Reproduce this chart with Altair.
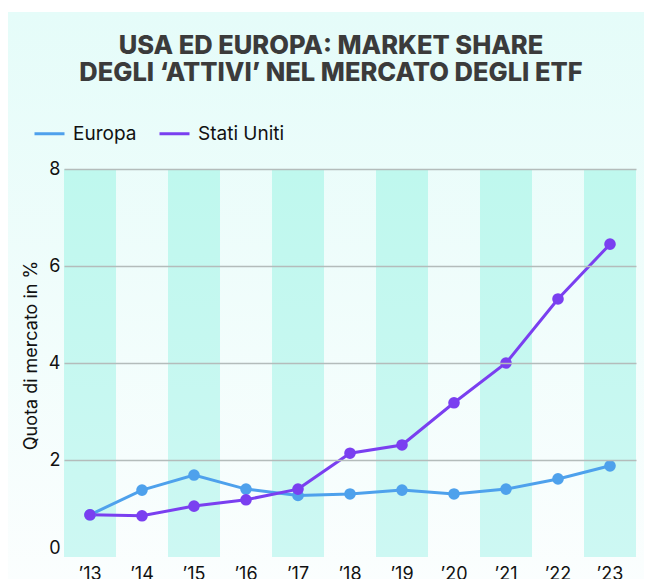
import altair as alt
import pandas as pd

years = ["’13", "’14", "’15", "’16", "’17", "’18", "’19", "’20", "’21", "’22", "’23"]
europa = [0.87, 1.38, 1.69, 1.40, 1.27, 1.30, 1.38, 1.30, 1.40, 1.61, 1.88]
stati_uniti = [0.87, 0.85, 1.05, 1.18, 1.40, 2.14, 2.31, 3.18, 4.00, 5.32, 6.45]
series = ["Europa", "Stati Uniti"]
colors = ["#4ea1ec", "#7a3ff0"]
shaded_years = years[::2]
y_ticks = [0, 2, 4, 6, 8]

rows = []
for name, vals in zip(series, [europa, stati_uniti]):
    for yr, v in zip(years, vals):
        rows.append({"year": yr, "value": v, "series": name})
df = pd.DataFrame(rows)

W, H = 572, 388
FONT = "Inter"

xscale = alt.Scale(type="band", domain=years, paddingInner=0, paddingOuter=0)
yscale = alt.Scale(domain=[0, 8], nice=False)

xaxis = alt.Axis(title=None, domain=False, ticks=False, labelAngle=0, labelFontSize=18,
                 labelFont=FONT, labelPadding=8, labelColor="#111111", grid=False)
yaxis = alt.Axis(values=y_ticks, title="Quota di mercato in %", domain=False, ticks=False,
                 labelFontSize=18, labelFont=FONT, labelColor="#111111", labelPadding=4,
                 labelBaseline={"condition": {"test": "datum.value == 0", "value": "bottom"}, "value": "middle"},
                 gridColor="#b4bcbb", gridWidth=1.5,
                 gridOpacity={"condition": {"test": "datum.value == 0", "value": 0}, "value": 1},
                 zindex=1, titleFontSize=18, titleFont=FONT, titleFontWeight="normal",
                 titleColor="#111111", titleX=-33, titleY=186, titleAngle=270,
                 titleAlign="center", titleBaseline="middle")

bg_grad = alt.LinearGradient(gradient="linear", x1=0, x2=0, y1=0, y2=1,
                             stops=[alt.GradientStop(color="#e5fcf9", offset=0),
                                    alt.GradientStop(color="#fbfefe", offset=1)])
band_grad = alt.LinearGradient(gradient="linear", x1=0, x2=0, y1=0, y2=1,
                               stops=[alt.GradientStop(color="#bff8ee", offset=0),
                                      alt.GradientStop(color="#cdf8f3", offset=1)])

bg = alt.Chart(pd.DataFrame({"k": [0]})).mark_rect(color=bg_grad).encode(
    x=alt.value(-64), x2=alt.value(W + 20), y=alt.value(-157), y2=alt.value(H + 30)
)

bands = alt.Chart(pd.DataFrame({"year": shaded_years})).mark_rect(color=band_grad).encode(
    x=alt.X("year:O", scale=xscale, sort=years, axis=xaxis),
    y=alt.value(0), y2=alt.value(H),
)

lines = alt.Chart(df).mark_line(
    strokeWidth=3, point=alt.OverlayMarkDef(size=135, filled=True, opacity=1)
).encode(
    x=alt.X("year:O", scale=xscale, sort=years, axis=xaxis),
    y=alt.Y("value:Q", scale=yscale, axis=yaxis),
    color=alt.Color("series:N", scale=alt.Scale(domain=series, range=colors),
                    legend=alt.Legend(title=None, orient="none", legendX=-31, legendY=-52,
                                      direction="horizontal", symbolType="stroke",
                                      symbolSize=900, symbolStrokeWidth=3,
                                      labelFontSize=19, labelFont=FONT, labelColor="#111111",
                                      labelOffset=7, columnPadding=16)),
)

chart = alt.layer(bg, bands, lines).properties(
    width=W, height=H,
    autosize="none",
    padding={"left": 56, "top": 161, "right": 8, "bottom": 22},
    background="white",
    title=alt.TitleParams(
        text=["USA ED EUROPA: MARKET SHARE", "DEGLI ‘ATTIVI’ NEL MERCATO DEGLI ETF"],
        font=FONT, fontSize=25.5, fontWeight=800, color="#3b3b3b",
        anchor="middle", lineHeight=27, dx=-19, offset=-74,
    ),
).configure_view(stroke=None)

chart.save("out.html", embed_options={"renderer": "svg", "actions": False})
